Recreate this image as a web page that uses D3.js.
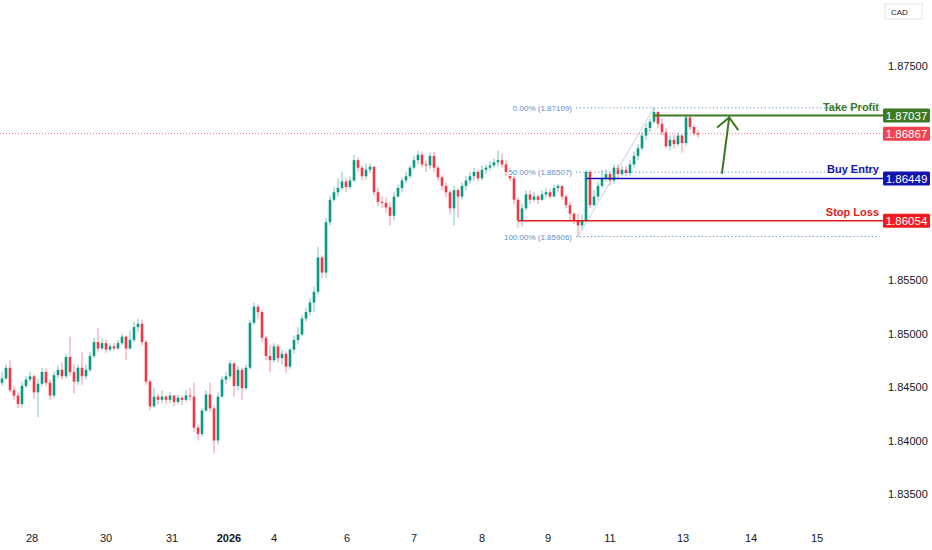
<!DOCTYPE html>
<html>
<head>
<meta charset="utf-8">
<script src="https://cdn.jsdelivr.net/npm/d3@7"></script>
<style>
  body { margin: 0; background: #fff; }
  text { font-family: "Liberation Sans", Arial, sans-serif; }
</style>
</head>
<body>
<svg id="chart" width="932" height="550"></svg>
<script>
// hourly-ish candles, open = previous close
const firstOpen = 1.8454;
const closes = [
  1.8458, 1.8468, 1.8447, 1.8442, 1.8434, 1.8451, 1.8457, 1.8460, 1.8445, 1.8453,
  1.8464, 1.8454, 1.8442, 1.8461, 1.8466, 1.8460, 1.8478, 1.8464, 1.8455, 1.8468,
  1.8460, 1.8466, 1.8479, 1.8492, 1.8486, 1.8491, 1.8485, 1.8488, 1.8486, 1.8491,
  1.8497, 1.8486, 1.8494, 1.8506, 1.8509, 1.8492, 1.8455, 1.8432, 1.8441, 1.8438,
  1.8441, 1.8438, 1.8442, 1.8436, 1.8440, 1.8438, 1.8442, 1.8441, 1.8412, 1.8406,
  1.8428, 1.8443, 1.8430, 1.8400, 1.8441, 1.8457, 1.8460, 1.8472, 1.8451, 1.8466,
  1.8449, 1.8468, 1.8510, 1.8525, 1.8520, 1.8496, 1.8479, 1.8475, 1.8488, 1.8477,
  1.8481, 1.8469, 1.8485, 1.8494, 1.8499, 1.8514, 1.8520, 1.8529, 1.8539, 1.8571,
  1.8557, 1.8604, 1.8625, 1.8632, 1.8636, 1.8642, 1.8637, 1.8643, 1.8662, 1.8655,
  1.8647, 1.8653, 1.8656, 1.8632, 1.8623, 1.8622, 1.8618, 1.8610, 1.8628, 1.8636,
  1.8643, 1.8647, 1.8655, 1.8662, 1.8667, 1.8658, 1.8657, 1.8666, 1.8655, 1.8646,
  1.8638, 1.8632, 1.8617, 1.8634, 1.8628, 1.8638, 1.8643, 1.8647, 1.8651, 1.8645,
  1.8653, 1.8655, 1.8657, 1.8660, 1.8662, 1.8658, 1.8651, 1.8645, 1.8625, 1.8606,
  1.8617, 1.8630, 1.8625, 1.8628, 1.8625, 1.8630, 1.8632, 1.8628, 1.8636, 1.8638,
  1.8628, 1.8620, 1.8612, 1.8606, 1.8601, 1.8606, 1.8651, 1.8620, 1.8628, 1.8638,
  1.8645, 1.8649, 1.8643, 1.8655, 1.8649, 1.8653, 1.8650, 1.8658, 1.8666, 1.8673,
  1.8685, 1.8692, 1.8698, 1.8707, 1.8696, 1.8688, 1.8675, 1.8681, 1.8677, 1.8685,
  1.8678, 1.8702, 1.8693, 1.8687, 1.86867
];
const highs = [
  1.8464, 1.8471, 1.8475, 1.8451, 1.8445, 1.8455, 1.8460, 1.8464, 1.8462, 1.8458,
  1.8468, 1.8467, 1.8457, 1.8464, 1.8470, 1.8473, 1.8481, 1.8497, 1.8471, 1.8471,
  1.8483, 1.8471, 1.8483, 1.8496, 1.8505, 1.8495, 1.8494, 1.8491, 1.8491, 1.8494,
  1.8500, 1.8498, 1.8503, 1.8511, 1.8514, 1.8513, 1.8494, 1.8457, 1.8449, 1.8444,
  1.8447, 1.8443, 1.8445, 1.8442, 1.8443, 1.8442, 1.8447, 1.8449, 1.8454, 1.8415,
  1.8430, 1.8447, 1.8454, 1.8433, 1.8445, 1.8460, 1.8464, 1.8475, 1.8473, 1.8470,
  1.8468, 1.8471, 1.8513, 1.8529, 1.8527, 1.8522, 1.8498, 1.8489, 1.8491, 1.8490,
  1.8485, 1.8483, 1.8486, 1.8498, 1.8506, 1.8517, 1.8524, 1.8533, 1.8544, 1.8581,
  1.8573, 1.8608, 1.8629, 1.8637, 1.8645, 1.8651, 1.8645, 1.8647, 1.8667, 1.8665,
  1.8657, 1.8659, 1.8659, 1.8656, 1.8636, 1.8628, 1.8627, 1.8622, 1.8632, 1.8639,
  1.8646, 1.8651, 1.8657, 1.8666, 1.8671, 1.8670, 1.8662, 1.8669, 1.8670, 1.8657,
  1.8648, 1.8641, 1.8634, 1.8638, 1.8636, 1.8641, 1.8647, 1.8651, 1.8655, 1.8653,
  1.8657, 1.8658, 1.8661, 1.8664, 1.8671, 1.8668, 1.8662, 1.8655, 1.8647, 1.8627,
  1.8621, 1.8634, 1.8634, 1.8632, 1.8630, 1.8634, 1.8636, 1.8635, 1.8639, 1.8640,
  1.8638, 1.8630, 1.8623, 1.8613, 1.8612, 1.8611, 1.8653, 1.8653, 1.8634, 1.8642,
  1.8653, 1.8653, 1.8651, 1.8658, 1.8658, 1.8657, 1.8657, 1.8662, 1.8670, 1.8677,
  1.8688, 1.8696, 1.8701, 1.87109, 1.8708, 1.8701, 1.8692, 1.8685, 1.8686, 1.8688,
  1.8686, 1.8704, 1.8704, 1.8695, 1.8690
];
const lows = [
  1.8451, 1.8457, 1.8445, 1.8438, 1.8430, 1.8431, 1.8449, 1.8455, 1.8439, 1.8422,
  1.8451, 1.8451, 1.8438, 1.8440, 1.8458, 1.8457, 1.8458, 1.8461, 1.8444, 1.8452,
  1.8452, 1.8457, 1.8464, 1.8477, 1.8483, 1.8485, 1.8482, 1.8483, 1.8484, 1.8485,
  1.8489, 1.8475, 1.8485, 1.8492, 1.8501, 1.8489, 1.8452, 1.8428, 1.8430, 1.8434,
  1.8435, 1.8434, 1.8435, 1.8432, 1.8434, 1.8433, 1.8436, 1.8437, 1.8408, 1.8400,
  1.8404, 1.8427, 1.8427, 1.8388, 1.8396, 1.8440, 1.8453, 1.8457, 1.8441, 1.8447,
  1.8438, 1.8447, 1.8466, 1.8508, 1.8514, 1.8492, 1.8475, 1.8464, 1.8473, 1.8473,
  1.8471, 1.8463, 1.8467, 1.8481, 1.8490, 1.8498, 1.8511, 1.8517, 1.8520, 1.8536,
  1.8552, 1.8552, 1.8601, 1.8623, 1.8628, 1.8634, 1.8632, 1.8635, 1.8642, 1.8651,
  1.8643, 1.8644, 1.8650, 1.8629, 1.8619, 1.8617, 1.8613, 1.8601, 1.8606, 1.8627,
  1.8632, 1.8640, 1.8645, 1.8653, 1.8658, 1.8655, 1.8651, 1.8654, 1.8651, 1.8643,
  1.8634, 1.8627, 1.8612, 1.8601, 1.8608, 1.8625, 1.8634, 1.8640, 1.8643, 1.8642,
  1.8643, 1.8649, 1.8652, 1.8655, 1.8656, 1.8655, 1.8647, 1.8642, 1.8621, 1.8599,
  1.8600, 1.8615, 1.8621, 1.8623, 1.8621, 1.8624, 1.8627, 1.8626, 1.8628, 1.8632,
  1.8625, 1.8617, 1.8606, 1.8602, 1.85906, 1.8597, 1.8604, 1.8617, 1.8619, 1.8625,
  1.8636, 1.8642, 1.8638, 1.8640, 1.8645, 1.8647, 1.8647, 1.8647, 1.8655, 1.8662,
  1.8671, 1.8681, 1.8688, 1.8696, 1.8692, 1.8685, 1.8673, 1.8671, 1.8673, 1.8675,
  1.8669, 1.8675, 1.8690, 1.8685, 1.8683
];

const priceTicks = [1.835, 1.840, 1.845, 1.850, 1.855, 1.860, 1.865, 1.870, 1.875];
const dateLabels = ["28", "30", "31", "2026", "4", "6", "7", "8", "9", "11", "13", "14", "15"];
const dateIdx = [7.5, 26, 42.5, 56.75, 68, 86.25, 103, 120, 136.5, 152, 170.25, 187.25, 203.75];

const levelNames = ["Take Profit", "Buy Entry", "Stop Loss"];
const levelPrices = [1.87037, 1.86449, 1.86054];
const levelStart = [163, 146, 129];
const levelColors = ["#3b7a22", "#1414b0", "#e3191b"];

const fibRatios = [0, 0.5, 1];
const fibHighIdx = 163, fibLowIdx = 144;
const arrowIdx = [180, 181.8];
const arrowPrice = [1.8650, 1.8702];

const plotRight = 883;
const svg = d3.select("#chart");

const x = d3.scaleLinear().domain([0, closes.length - 1]).range([2, 698]);
const y = d3.scaleLinear().domain([1.835, 1.875]).range([494, 66]);

const candles = closes.map((c, i) => ({
  i: i,
  o: i === 0 ? firstOpen : closes[i - 1],
  h: highs[i], l: lows[i], c: c
}));
const last = candles[candles.length - 1];

const up = "#089981", down = "#f23645";

// tags sit on the price scale, so skip tick labels they would hide
const tags = [
  { p: levelPrices[0], color: levelColors[0] },
  { p: last.c, color: "#f0424f" },
  { p: levelPrices[1], color: levelColors[1] },
  { p: levelPrices[2], color: "#ee1c1c" }
];

const yAxis = svg.append("g");
priceTicks.forEach(p => {
  if (tags.some(t => Math.abs(y(t.p) - y(p)) < 12)) return;
  yAxis.append("text")
    .attr("x", 888).attr("y", y(p) + 4)
    .style("font-size", "11px").style("fill", "#131722")
    .text(p.toFixed(5));
});

// date axis
dateLabels.forEach((d, k) => {
  svg.append("text")
    .attr("x", x(dateIdx[k])).attr("y", 542)
    .attr("text-anchor", "middle")
    .style("font-size", "11px").style("fill", "#131722")
    .style("font-weight", d === "2026" ? "bold" : "normal")
    .text(d);
});

// currency box
svg.append("rect").attr("x", 885).attr("y", 4).attr("width", 37).attr("height", 15)
  .style("fill", "#fff").style("stroke", "#e6e6e6");
svg.append("text").attr("x", 891).attr("y", 15)
  .style("font-size", "8px").style("fill", "#131722").text("CAD");

// current price dotted line
svg.append("line")
  .attr("x1", 0).attr("x2", plotRight)
  .attr("y1", y(last.c)).attr("y2", y(last.c))
  .style("stroke", down).style("stroke-dasharray", "1,2").style("opacity", 0.7);

// fib retracement lines
const fibHi = highs[fibHighIdx], fibLo = lows[fibLowIdx];
const fibP = fibRatios.map(r => fibHi - (fibHi - fibLo) * r);
const fib = svg.append("g");
fib.append("line")
  .attr("x1", x(fibLowIdx)).attr("y1", y(fibLo))
  .attr("x2", x(fibHighIdx)).attr("y2", y(fibHi))
  .style("stroke", "#b8c2cc").style("stroke-width", 0.8);
fibP.forEach(p => {
  fib.append("line")
    .attr("x1", x(fibLowIdx) - 2).attr("x2", plotRight - 3)
    .attr("y1", y(p)).attr("y2", y(p))
    .style("stroke", "#5b93d3").style("stroke-dasharray", "1.2,2.5");
});

// candles
const cg = svg.append("g");
cg.selectAll(".wick").data(candles).enter().append("line")
  .attr("x1", d => x(d.i)).attr("x2", d => x(d.i))
  .attr("y1", d => y(d.h)).attr("y2", d => y(d.l))
  .style("stroke", d => d.c >= d.o ? up : down)
  .style("stroke-width", 1).style("opacity", 0.55);
cg.selectAll(".body").data(candles).enter().append("rect")
  .attr("x", d => x(d.i) - 1.3)
  .attr("width", 2.6)
  .attr("y", d => y(Math.max(d.o, d.c)))
  .attr("height", d => Math.max(1, Math.abs(y(d.o) - y(d.c))))
  .style("fill", d => d.c >= d.o ? up : down);

// fib labels on top of the candles
fibRatios.forEach((r, k) => {
  const p = Math.floor(fibP[k] * 1e5 + 1e-6) / 1e5;
  fib.raise();
  svg.append("text")
    .attr("x", x(fibLowIdx) - 6).attr("y", y(fibP[k]) + 3)
    .attr("text-anchor", "end")
    .style("font-size", "8px").style("fill", "#5b8fcc")
    .style("paint-order", "stroke").style("stroke", "#fff").style("stroke-width", 2)
    .text((r * 100).toFixed(2) + "% (" + p.toFixed(5) + ")");
});

// trade levels
levelNames.forEach((name, k) => {
  const yy = y(levelPrices[k]);
  svg.append("line")
    .attr("x1", x(levelStart[k])).attr("x2", plotRight)
    .attr("y1", yy).attr("y2", yy)
    .style("stroke", levelColors[k]).style("stroke-width", k === 0 ? 2 : 1.6);
  svg.append("text")
    .attr("x", 879).attr("y", yy - 5)
    .attr("text-anchor", "end")
    .style("font-size", "11px").style("font-weight", "bold")
    .style("fill", levelColors[k])
    .text(name);
});

// arrow
const ax0 = x(arrowIdx[0]), ay0 = y(arrowPrice[0]);
const ax1 = x(arrowIdx[1]), ay1 = y(arrowPrice[1]);
const ang = Math.atan2(ay1 - ay0, ax1 - ax0);
const headLen = 15, spread = 0.75;
const arrow = svg.append("g").style("stroke", "#3b7a22").style("stroke-width", 2)
  .style("fill", "none").style("stroke-linecap", "round");
arrow.append("line").attr("x1", ax0).attr("y1", ay0).attr("x2", ax1).attr("y2", ay1);
arrow.append("path").attr("d",
  "M" + (ax1 - headLen * Math.cos(ang - spread)) + "," + (ay1 - headLen * Math.sin(ang - spread)) +
  "L" + ax1 + "," + ay1 +
  "L" + (ax1 - headLen * Math.cos(ang + spread)) + "," + (ay1 - headLen * Math.sin(ang + spread)));

// price tags on the axis
tags.forEach(t => {
  const yy = y(t.p);
  svg.append("rect")
    .attr("x", plotRight).attr("y", yy - 7).attr("width", 47).attr("height", 14)
    .attr("rx", 1.5)
    .style("fill", t.color);
  svg.append("text")
    .attr("x", plotRight + 23.5).attr("y", yy + 4.2)
    .attr("text-anchor", "middle")
    .style("font-size", "11.5px").style("fill", "#fff")
    .text(t.p.toFixed(5));
});
</script>
</body>
</html>
